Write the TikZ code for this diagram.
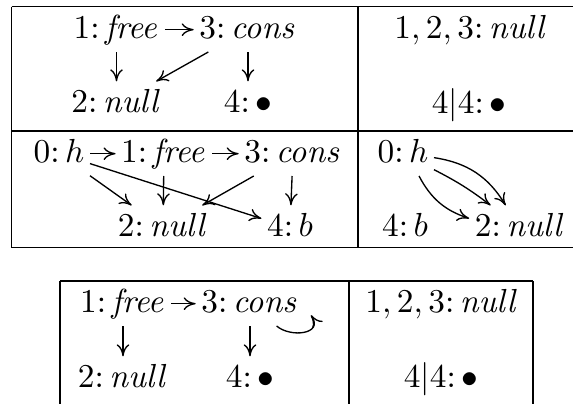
\documentclass[tikz,border=0pt]{standalone}
\usetikzlibrary{arrows.meta}
\begin{document}
\begin{tikzpicture}[x=0.3pt,y=-0.3pt,
  obj/.style={anchor=base, inner sep=1.5pt, text height=7.5pt, text depth=2.5pt},
  arr/.style={-{To[length=3.6pt,width=3.8pt]}, line width=0.4pt},
  rule/.style={line width=0.45pt}]
\useasboundingbox (0,0) rectangle (573,403);
\clip (0,0) rectangle (573,403);
% top table
\draw[rule] (11.5,6.5) -- (582,6.5);
\draw[rule] (11.5,131) -- (582,131);
\draw[rule] (11.5,247.5) -- (582,247.5);
\draw[rule] (11.5,6.5) -- (11.5,247.5);
\draw[rule] (358,6.5) -- (358,247.5);
\draw[rule] (582,6.5) -- (582,247.5);
% top-left
\node[obj] (a1) at (116.5,38) {$1\colon\mathit{free}$};
\node[obj] (a3) at (248,38) {$3\colon\mathit{cons}$};
\node[obj] (a2) at (116.5,112) {$2\colon\mathit{null}$};
\node[obj] (a4) at (248,112) {$4\colon\bullet$};
\draw[arr] (a1) -- (a3);
\draw[arr] (a1) -- (a2);
\draw[arr] (a3) -- (a2);
\draw[arr] (a3) -- (a4);
% top-right
\node[obj] (b1) at (471,38) {$1,2,3\colon\mathit{null}$};
\node[obj] (b4) at (469,113) {$4|4\colon\bullet$};
% bottom-left
\node[obj] (c0) at (59,162) {$0\colon h$};
\node[obj] (c1) at (164,162) {$1\colon\mathit{free}$};
\node[obj] (c3) at (293,162) {$3\colon\mathit{cons}$};
\node[obj] (c2) at (163,236) {$2\colon\mathit{null}$};
\node[obj] (c4) at (290,236) {$4\colon b$};
\draw[arr] (c0) -- (c1);
\draw[arr] (c1) -- (c3);
\draw[arr] (c0) -- (c2);
\draw[arr] (c0) -- (c4);
\draw[arr] (c1) -- (c2);
\draw[arr] (c3) -- (c2);
\draw[arr] (c3) -- (c4);
% bottom-right
\node[obj] (d0) at (403,162) {$0\colon h$};
\node[obj] (d4) at (405,236) {$4\colon b$};
\node[obj] (d2) at (520,236) {$2\colon\mathit{null}$};
\draw[arr] (d0) to[bend left=25] (d2);
\draw[arr] (d0) to[bend left=5] (d2);
\draw[arr] (d0) to[bend right=22] (d2);
% bottom table
\draw[rule] (60,281) -- (533,281);
\draw[rule] (60,281) -- (60,410);
\draw[rule] (349,281) -- (349,410);
\draw[rule] (533,281) -- (533,410);
\node[obj] (e1) at (123,312) {$1\colon\mathit{free}$};
\node[obj] (e3) at (250,312) {$3\colon\mathit{cons}$};
\node[obj] (e2) at (123,387) {$2\colon\mathit{null}$};
\node[obj] (e4) at (250,387) {$4\colon\bullet$};
\draw[arr] (e1) -- (e3);
\draw[arr] (e1) -- (e2);
\draw[arr] (e3) -- (e4);
\draw[arr] (e3.-40) .. controls +(14,12) and +(13,19) .. ([xshift=2pt]e3.-12);
\node[obj] (f1) at (442,312) {$1,2,3\colon\mathit{null}$};
\node[obj] (f4) at (441,387) {$4|4\colon\bullet$};
\end{tikzpicture}
\end{document}
